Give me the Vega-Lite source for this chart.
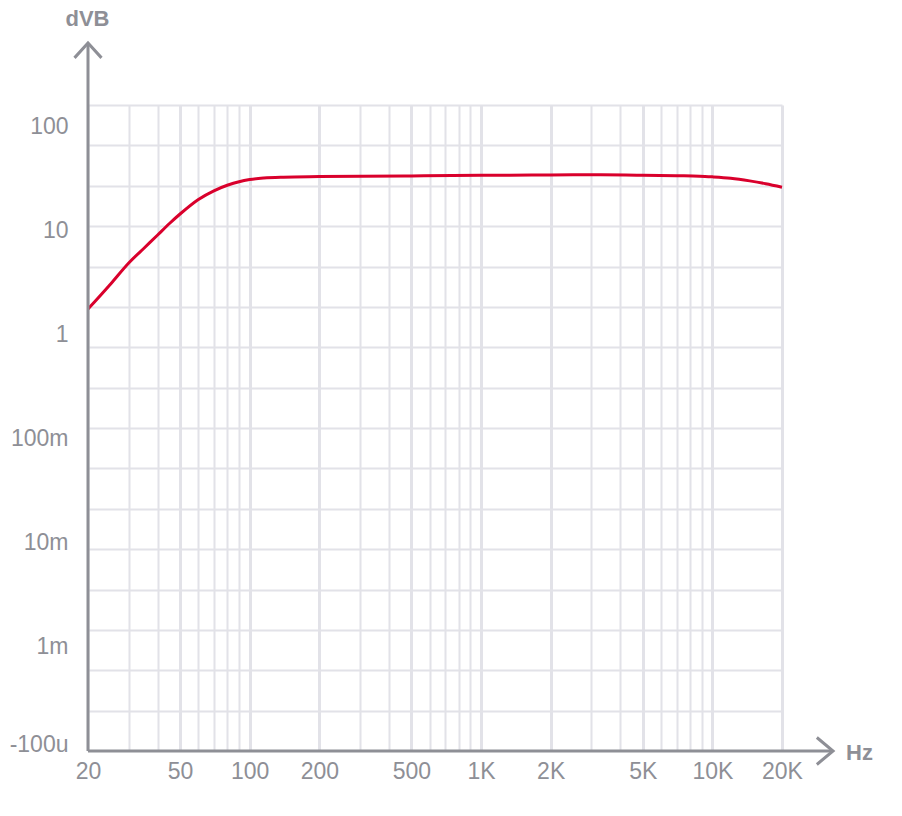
{
  "$schema": "https://vega.github.io/schema/vega-lite/v6.json",
  "width": 694,
  "height": 646,
  "autosize": {"type": "none"},
  "padding": {"left": 88, "top": 105, "right": 120, "bottom": 65},
  "background": "white",
  "config": {"view": {"stroke": null}, "font": "Liberation Sans"},
  "layer": [
    {
      "data": {"values": [
        {"f": 20, "v": 1.76},
        {"f": 25, "v": 3.05},
        {"f": 30, "v": 4.88},
        {"f": 35, "v": 6.8},
        {"f": 40, "v": 9.06},
        {"f": 45, "v": 11.69},
        {"f": 50, "v": 14.42},
        {"f": 60, "v": 19.88},
        {"f": 70, "v": 24.09},
        {"f": 80, "v": 27.21},
        {"f": 90, "v": 29.47},
        {"f": 100, "v": 30.88},
        {"f": 115, "v": 31.92},
        {"f": 140, "v": 32.55},
        {"f": 200, "v": 32.96},
        {"f": 500, "v": 33.5},
        {"f": 1000, "v": 33.9},
        {"f": 1330, "v": 34.0},
        {"f": 2000, "v": 34.2},
        {"f": 3300, "v": 34.3},
        {"f": 5000, "v": 34.0},
        {"f": 7000, "v": 33.6},
        {"f": 8800, "v": 33.3},
        {"f": 10000, "v": 32.8},
        {"f": 12000, "v": 31.8},
        {"f": 14500, "v": 30.0},
        {"f": 17000, "v": 28.2},
        {"f": 20000, "v": 26.1}
      ]},
      "mark": {"type": "line", "interpolate": "monotone", "color": "#d9002c", "strokeWidth": 3},
      "encoding": {
        "x": {
          "field": "f", "type": "quantitative",
          "scale": {"type": "log", "domain": [20, 20000], "nice": false},
          "axis": {
            "values": [20, 30, 40, 50, 60, 70, 80, 90, 100, 200, 300, 400, 500, 600, 700, 800, 900, 1000, 2000, 3000, 4000, 5000, 6000, 7000, 8000, 9000, 10000, 20000],
            "labelExpr": "indexof([20,50,100,200,500], datum.value) >= 0 ? '' + datum.value : (indexof([1000,2000,5000,10000,20000], datum.value) >= 0 ? (datum.value / 1000) + 'K' : '')",
            "labelFlush": false,
            "labelOverlap": false,
            "labelBound": false,
            "labelFontSize": 23,
            "labelColor": "#8e8f96",
            "labelPadding": 9,
            "labelBaseline": "top",
            "ticks": false,
            "tickSize": 0,
            "domain": false,
            "grid": true,
            "gridColor": "#e2e2e8",
            "gridWidth": {"condition": {"test": "indexof([50,100,200,500,1000,2000,5000,10000,20000], datum.value) >= 0", "value": 3}, "value": 2},
            "title": "Hz",
            "titleFontSize": 22,
            "titleFontWeight": "bold",
            "titleColor": "#8e8f96",
            "titleAnchor": null,
            "titleAlign": "center",
            "titleBaseline": "alphabetic",
            "titleX": 771,
            "titleY": 8
          }
        },
        "y": {
          "field": "v", "type": "quantitative",
          "scale": {"type": "log", "domain": [0.0001, 160.7], "nice": false},
          "axis": {
            "values": [0.0001, 0.00024427, 0.0005967, 0.001, 0.0014576, 0.0035604, 0.008697, 0.01, 0.021245, 0.051894, 0.1, 0.12677, 0.30965, 0.75637, 1, 1.8477, 4.5133, 10, 11.025, 26.93, 65.785, 100, 160.7],
            "labelExpr": "datum.value == 100 ? '100' : datum.value == 10 ? '10' : datum.value == 1 ? '1' : datum.value == 0.1 ? '100m' : datum.value == 0.01 ? '10m' : datum.value == 0.001 ? '1m' : datum.value == 0.0001 ? '-100u' : ''",
            "labelFlush": false,
            "labelOverlap": false,
            "labelBound": false,
            "labelFontSize": 23,
            "labelColor": "#8e8f96",
            "labelPadding": 20,
            "labelAlign": "right",
            "labelBaseline": {"condition": {"test": "datum.value < 0.0002", "value": "alphabetic"}, "value": "middle"},
            "ticks": false,
            "tickSize": 0,
            "domain": false,
            "grid": true,
            "gridColor": "#e2e2e8",
            "gridWidth": 2,
            "gridOpacity": {"condition": {"test": "indexof([0.0001,0.001,0.01,0.1,1,10,100], datum.value) >= 0", "value": 0}, "value": 1},
            "title": "dVB",
            "titleFontSize": 22,
            "titleFontWeight": "bold",
            "titleColor": "#8e8f96",
            "titleAngle": 0,
            "titleAnchor": null,
            "titleAlign": "center",
            "titleBaseline": "alphabetic",
            "titleX": -1,
            "titleY": -80
          }
        }
      }
    },
    {
      "data": {"values": [{"f": 20, "f2": 33240, "v": 0.0001}]},
      "mark": {"type": "rule", "color": "#8e8f96", "strokeWidth": 3},
      "encoding": {
        "x": {"field": "f", "type": "quantitative"},
        "x2": {"field": "f2"},
        "y": {"field": "v", "type": "quantitative"}
      }
    },
    {
      "data": {"values": [{"f": 20, "v": 0.0001, "v2": 633}]},
      "mark": {"type": "rule", "color": "#8e8f96", "strokeWidth": 3},
      "encoding": {
        "x": {"field": "f", "type": "quantitative"},
        "y": {"field": "v", "type": "quantitative"},
        "y2": {"field": "v2"}
      }
    },
    {
      "data": {"values": [{"f": 33240, "v": 0.0001}]},
      "mark": {"type": "point", "shape": "M-1.2,-1L0,0L-1.2,1", "size": 729, "filled": false, "stroke": "#8e8f96", "strokeWidth": 3, "opacity": 1, "strokeJoin": "miter"},
      "encoding": {
        "x": {"field": "f", "type": "quantitative"},
        "y": {"field": "v", "type": "quantitative"}
      }
    },
    {
      "data": {"values": [{"f": 20, "v": 633}]},
      "mark": {"type": "point", "shape": "M-1,1.1L0,0L1,1.1", "size": 729, "filled": false, "stroke": "#8e8f96", "strokeWidth": 3, "opacity": 1, "strokeJoin": "miter"},
      "encoding": {
        "x": {"field": "f", "type": "quantitative"},
        "y": {"field": "v", "type": "quantitative"}
      }
    }
  ]
}
